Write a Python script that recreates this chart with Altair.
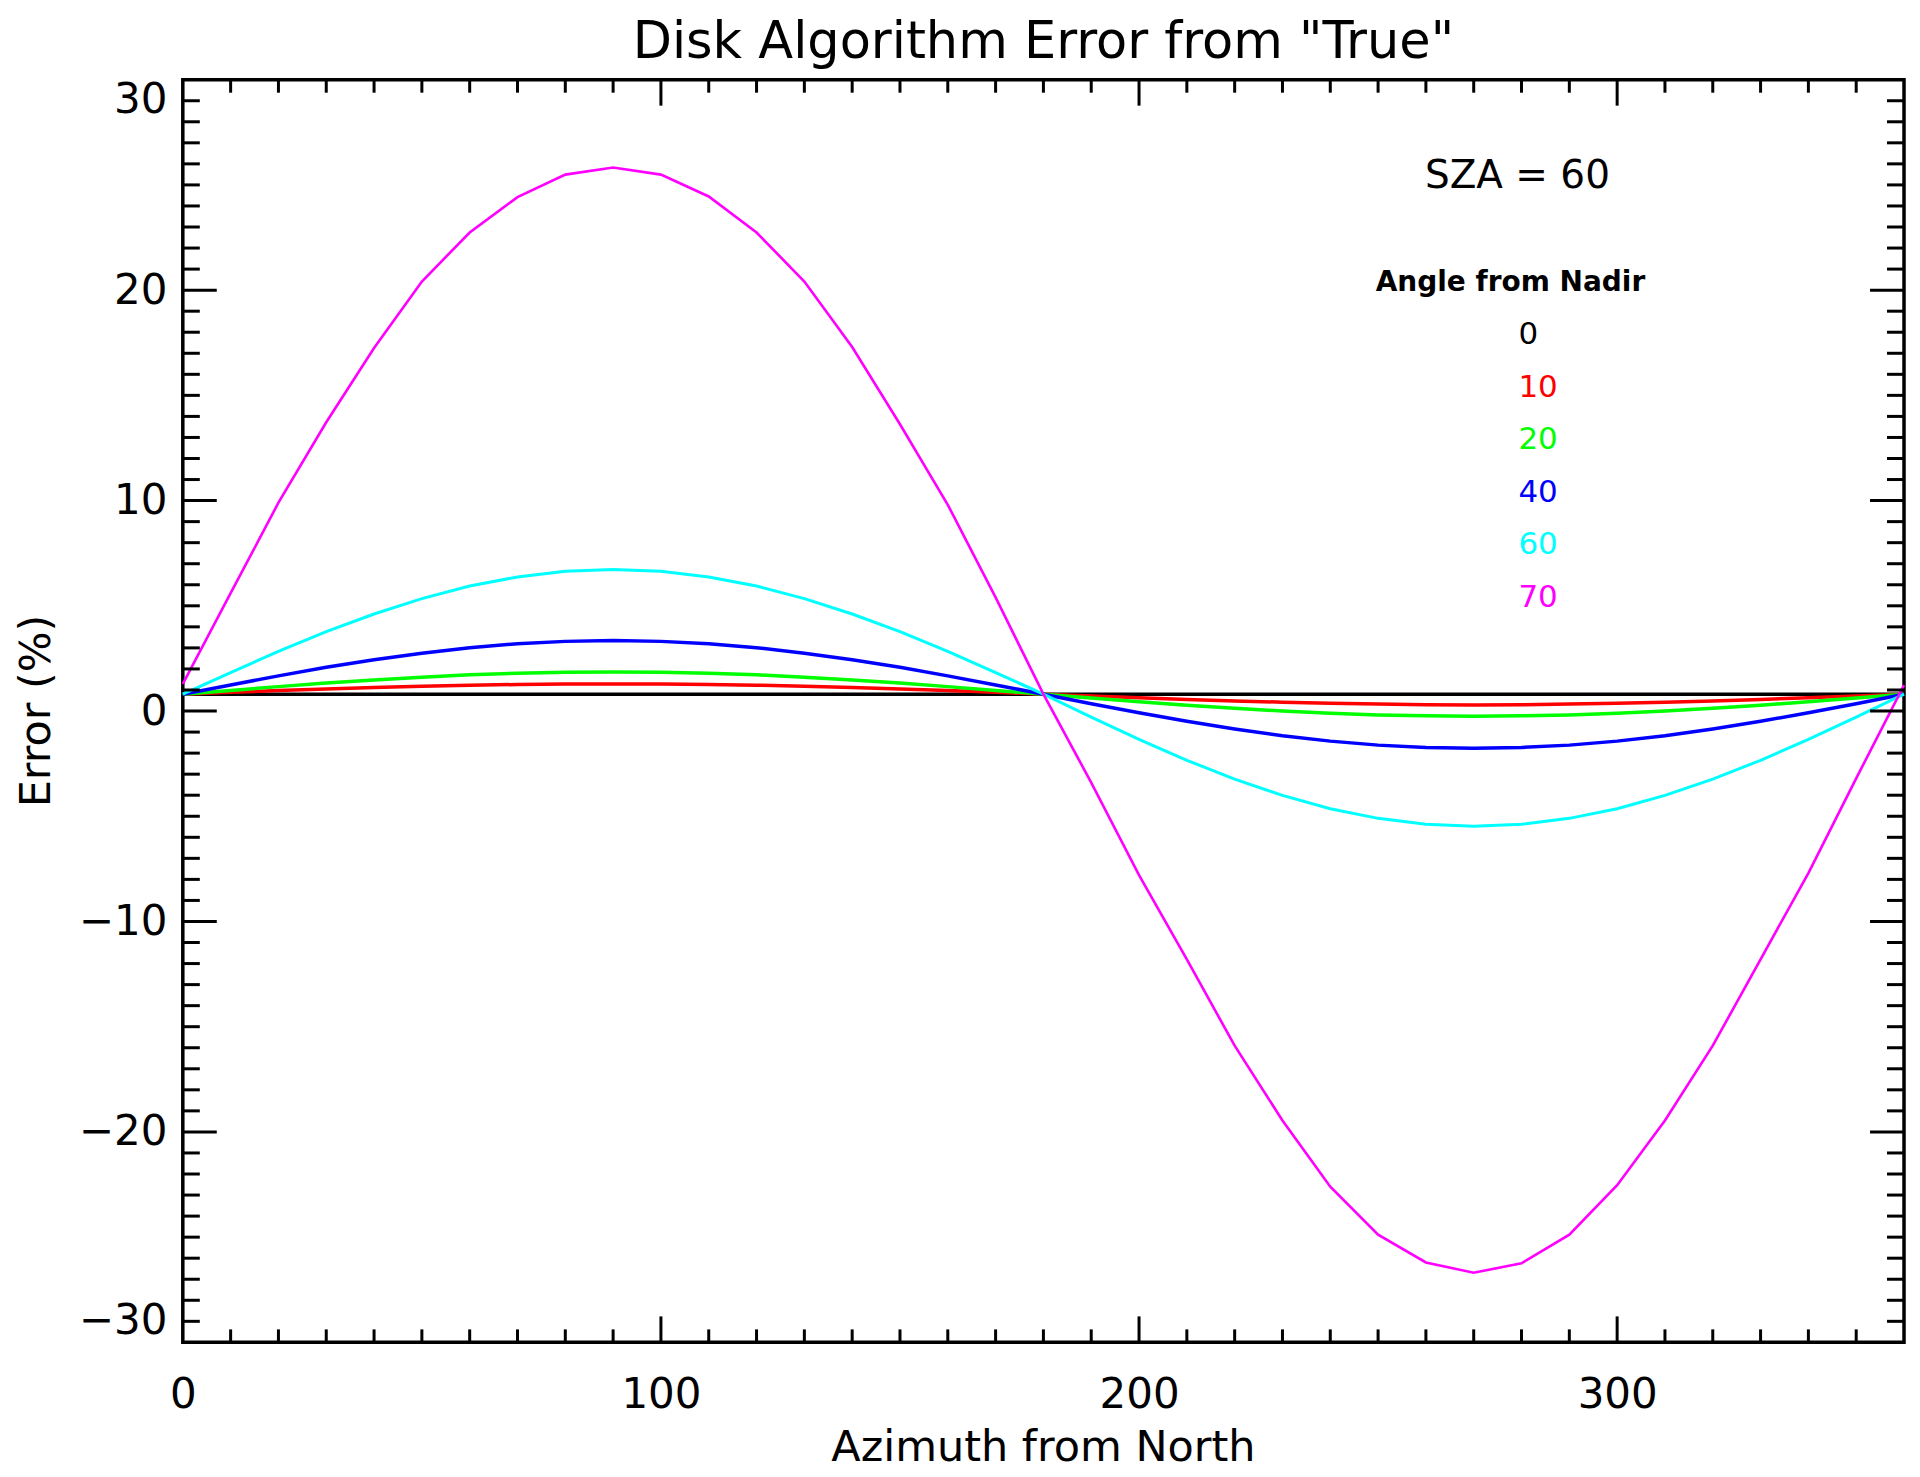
import altair as alt
import pandas as pd

FONT = "DejaVu Sans"

title_text = 'Disk Algorithm Error from "True"'
x_title = "Azimuth from North"
y_title = "Error (%)"
sza_text = "SZA = 60"
legend_title = "Angle from Nadir"

azimuth = [0, 10, 20, 30, 40, 50, 60, 70, 80, 90, 100, 110, 120, 130, 140, 150, 160, 170, 180,
           190, 200, 210, 220, 230, 240, 250, 260, 270, 280, 290, 300, 310, 320, 330, 340, 350, 360]

angles = ["0", "10", "20", "40", "60", "70"]
colors = ["#000000", "#ff0000", "#00ff00", "#0000ff", "#00ffff", "#ff00ff"]
widths = [3.5, 3.5, 3.5, 3.5, 3.0, 2.6]

err_0 = [0.80, 0.80, 0.80, 0.80, 0.80, 0.80, 0.80, 0.80, 0.80, 0.80, 0.80, 0.80, 0.80, 0.80, 0.80, 0.80, 0.80, 0.80, 0.80,
         0.80, 0.80, 0.80, 0.80, 0.80, 0.80, 0.80, 0.80, 0.80, 0.80, 0.80, 0.80, 0.80, 0.80, 0.80, 0.80, 0.80, 0.80]
err_10 = [0.80, 0.89, 0.97, 1.05, 1.12, 1.18, 1.23, 1.26, 1.28, 1.29, 1.28, 1.26, 1.23, 1.18, 1.12, 1.05, 0.97, 0.89, 0.80,
          0.71, 0.63, 0.55, 0.48, 0.42, 0.37, 0.33, 0.30, 0.29, 0.30, 0.33, 0.37, 0.42, 0.48, 0.55, 0.63, 0.71, 0.80]
err_20 = [0.80, 0.98, 1.16, 1.33, 1.48, 1.61, 1.72, 1.80, 1.84, 1.86, 1.84, 1.80, 1.72, 1.61, 1.48, 1.33, 1.16, 0.98, 0.80,
          0.62, 0.44, 0.28, 0.13, 0.00, -0.11, -0.19, -0.23, -0.25, -0.23, -0.19, -0.11, 0.00, 0.13, 0.28, 0.44, 0.62, 0.80]
err_40 = [0.80, 1.24, 1.67, 2.08, 2.44, 2.75, 3.01, 3.20, 3.31, 3.35, 3.31, 3.20, 3.01, 2.75, 2.44, 2.08, 1.67, 1.24, 0.80,
          0.35, -0.08, -0.49, -0.85, -1.17, -1.43, -1.62, -1.73, -1.77, -1.73, -1.62, -1.43, -1.17, -0.85, -0.49, -0.08, 0.35, 0.80]
err_60 = [0.80, 1.83, 2.83, 3.77, 4.61, 5.34, 5.94, 6.37, 6.64, 6.73, 6.64, 6.37, 5.94, 5.34, 4.61, 3.77, 2.83, 1.83, 0.80,
          -0.29, -1.35, -2.34, -3.24, -4.01, -4.64, -5.10, -5.38, -5.48, -5.38, -5.10, -4.64, -4.01, -3.24, -2.34, -1.35, -0.29, 0.80]
err_70 = [1.29, 5.60, 9.90, 13.72, 17.25, 20.41, 22.74, 24.42, 25.49, 25.83, 25.49, 24.45, 22.74, 20.41, 17.30, 13.63, 9.80, 5.40, 0.80,
          -3.40, -7.80, -11.80, -15.90, -19.46, -22.60, -24.88, -26.20, -26.69, -26.24, -24.88, -22.53, -19.46, -15.90, -11.80, -7.70, -3.20, 1.23]

series = [err_0, err_10, err_20, err_40, err_60, err_70]

x_label_values = [0, 100, 200, 300]
y_label_values = [-30, -20, -10, 0, 10, 20, 30]
x_major_ticks = [100, 200, 300]
x_minor_ticks = [v for v in range(10, 360, 10) if v % 100 != 0]
y_major_ticks = [-20, -10, 0, 10, 20]
y_minor_ticks = [v for v in range(-29, 30) if v % 10 != 0]

W, H = 1723, 1264

xs = alt.Scale(domain=[0, 360], nice=False, zero=False)
ys = alt.Scale(domain=[-30, 30], nice=False, zero=False)

x_axis = alt.Axis(
    values=x_label_values, title=None, labelFont=FONT, labelFontSize=42,
    labelColor="black", domain=False, ticks=False, tickSize=0, grid=False,
    labelPadding=32, labelFlush=False, labelOverlap=False, labelBound=False)
y_axis = alt.Axis(
    values=y_label_values, title=None, labelFont=FONT, labelFontSize=42,
    labelColor="black", domain=False, ticks=False, tickSize=0, grid=False,
    labelPadding=16, labelFlush=True, labelOverlap=False, labelBound=False,
    format="d")

layers = []

# data lines
for ang, col, vals, sw in zip(angles, colors, series, widths):
    df = pd.DataFrame({"az": azimuth, "err": vals})
    layers.append(alt.Chart(df).mark_line(color=col, strokeWidth=sw).encode(
        x=alt.X("az:Q", scale=xs, axis=x_axis),
        y=alt.Y("err:Q", scale=ys, axis=y_axis)))

# inward ticks
tick_color = "black"
tw = 3
df_xmaj = pd.DataFrame({"az": x_major_ticks})
df_xmin = pd.DataFrame({"az": x_minor_ticks})
df_ymaj = pd.DataFrame({"err": y_major_ticks})
df_ymin = pd.DataFrame({"err": y_minor_ticks})

def xticks(df, length):
    bottom = alt.Chart(df).mark_rule(color=tick_color, strokeWidth=tw).encode(
        x=alt.X("az:Q", scale=xs, axis=x_axis), y=alt.value(H), y2=alt.value(H - length))
    top = alt.Chart(df).mark_rule(color=tick_color, strokeWidth=tw).encode(
        x=alt.X("az:Q", scale=xs, axis=x_axis), y=alt.value(0), y2=alt.value(length))
    return [bottom, top]

def yticks(df, length):
    left = alt.Chart(df).mark_rule(color=tick_color, strokeWidth=tw).encode(
        y=alt.Y("err:Q", scale=ys, axis=y_axis), x=alt.value(0), x2=alt.value(length))
    right = alt.Chart(df).mark_rule(color=tick_color, strokeWidth=tw).encode(
        y=alt.Y("err:Q", scale=ys, axis=y_axis), x=alt.value(W), x2=alt.value(W - length))
    return [left, right]

layers += xticks(df_xmaj, 26) + xticks(df_xmin, 13)
layers += yticks(df_ymaj, 34) + yticks(df_ymin, 17)

def label(text, x, y, size, color="black", align="center", weight="normal", angle=0):
    return alt.Chart(pd.DataFrame({"t": [text]})).mark_text(
        font=FONT, fontSize=size, color=color, align=align, baseline="alphabetic",
        fontWeight=weight, angle=angle).encode(text="t:N", x=alt.value(x), y=alt.value(y))

layers.append(label(title_text, W / 2, -22, 51))
layers.append(label(x_title, W / 2, H + 119, 43))
layers.append(label(y_title, -133, H / 2, 43, angle=270))
layers.append(label(sza_text, 1336, 108, 39))
layers.append(label(legend_title, 1329, 212, 28, weight="bold"))

legend_baselines = [265, 318, 370, 423, 475, 528]
for ang, col, yb in zip(angles, colors, legend_baselines):
    layers.append(label(ang, 1337, yb, 31, color=col, align="left"))

chart = alt.layer(*layers).properties(
    width=W, height=H,
    background="white",
    padding={"left": 175, "top": 71, "right": 8, "bottom": 132},
    autosize=alt.AutoSizeParams(type="none"),
).configure_view(stroke="black", strokeWidth=3.5)

chart.save("out.html", embed_options={"renderer": "svg", "actions": False})
